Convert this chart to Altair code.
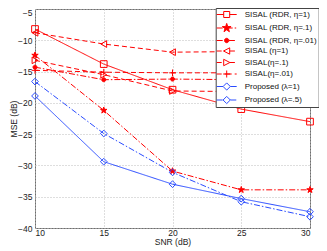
import altair as alt
import pandas as pd

snr = [10, 15, 20, 25, 30]
series_names = [
    "SISAL (RDR, η=1)", "SISAL (RDR, η=.1)", "SISAL (RDR, η=.01)",
    "SISAL (η=1)", "SISAL(η=.1)", "SISAL(η=.01)",
    "Proposed (λ=1)", "Proposed (λ=.5)",
]
rdr_1 = [-8.2, -13.8, -17.9, -21.0, -23.0]
rdr_01 = [-12.4, -21.2, -30.9, -33.9, -33.9]
rdr_001 = [-14.3, -16.3, -16.2, -16.3, -16.3]
sisal_1 = [-8.8, -10.6, -11.9, -11.8, -11.7]
sisal_01 = [-13.2, -15.5, -18.1, -18.2, -18.3]
sisal_001 = [-14.8, -15.1, -15.2, -15.2, -15.2]
prop_1 = [-18.9, -29.4, -33.0, -35.3, -37.4]
prop_05 = [-16.6, -24.9, -31.1, -35.8, -38.2]
all_vals = [rdr_1, rdr_01, rdr_001, sisal_1, sisal_01, sisal_001, prop_1, prop_05]

RED = "#ff0000"
BLUE = "#2a4cff"
colors = [RED] * 6 + [BLUE] * 2
DD = [6, 2, 1.5, 2]
DA = [5, 3]
SOLID = [1, 0]
dashes = [SOLID, DD, DD, DA, DA, DA, SOLID, DD]
STAR = ("M0,-1L0.2245,-0.309L0.9511,-0.309L0.3633,0.118L0.5878,0.809L0,0.382"
        "L-0.5878,0.809L-0.3633,0.118L-0.9511,-0.309L-0.2245,-0.309Z")
PLUS = "M-1,0L1,0M0,-1L0,1"
CIRC = "M-0.6,0A0.6,0.6,0,1,1,0.6,0A0.6,0.6,0,1,1,-0.6,0Z"
shapes = ["square", STAR, CIRC, "triangle-left", "triangle-right", PLUS, "diamond", "diamond"]
fills = ["transparent", RED, RED, "transparent", "transparent", "transparent", "transparent", "transparent"]

# ---- legend glyphs: line segment (with its dash pattern) plus marker ----
# glyphs are designed in pixels and expressed in symbol units (1 unit = sqrt(LEG_SIZE)/2 px)
LEG_SIZE = 100
UNIT = LEG_SIZE ** 0.5 / 2
HALF_LINE = 10.0


def _segs(a, b, pattern_px):
    if pattern_px == SOLID:
        return f"M{a / UNIT:.3f},0L{b / UNIT:.3f},0"
    out, pos, i = [], a, 0
    while pos < b - 1e-6:
        end = min(pos + pattern_px[i % len(pattern_px)], b)
        if i % 2 == 0:
            out.append(f"M{pos / UNIT:.3f},0L{end / UNIT:.3f},0")
        pos = end
        i += 1
    return "".join(out)


def _poly(pts_px):
    return "M" + "L".join(f"{x / UNIT:.3f},{y / UNIT:.3f}" for x, y in pts_px) + "Z"


star_unit = [(0, -1), (0.2245, -0.309), (0.9511, -0.309), (0.3633, 0.118), (0.5878, 0.809),
             (0, 0.382), (-0.5878, 0.809), (-0.3633, 0.118), (-0.9511, -0.309), (-0.2245, -0.309)]
rc = 2.2 / UNIT
rp = 3.5 / UNIT
leg_markers = [
    (_poly([(-3, -3), (3, -3), (3, 3), (-3, 3)]), 3.0),
    (_poly([(x * 4.6, y * 4.6) for x, y in star_unit]), 0.0),
    (f"M{-rc:.3f},0A{rc:.3f},{rc:.3f},0,1,1,{rc:.3f},0A{rc:.3f},{rc:.3f},0,1,1,{-rc:.3f},0Z", 2.2),
    (_poly([(-3.2, 0), (3, -3.2), (3, 3.2)]), 3.2),
    (_poly([(3.2, 0), (-3, -3.2), (-3, 3.2)]), 3.2),
    (f"M{-rp:.3f},0L{rp:.3f},0M0,{-rp:.3f}L0,{rp:.3f}", 0.0),
    (_poly([(0, -3.6), (3.6, 0), (0, 3.6), (-3.6, 0)]), 3.6),
    (_poly([(0, -3.6), (3.6, 0), (0, 3.6), (-3.6, 0)]), 3.6),
]
leg_shapes = []
for (mk, gap), pat in zip(leg_markers, dashes):
    leg_shapes.append(_segs(-HALF_LINE, -gap, pat) + _segs(gap, HALF_LINE, pat) + mk)

rows = []
for name, vals in zip(series_names, all_vals):
    for xv, yv in zip(snr, vals):
        rows.append({"snr": xv, "mse": yv, "series": name})
df = pd.DataFrame(rows)

FONT = "Liberation Sans"
W, H = 275, 219

x = alt.X("snr:Q", scale=alt.Scale(domain=[10, 30], nice=False),
          axis=alt.Axis(values=snr, title="SNR (dB)", titleY=13.5, titleBaseline="middle",
                        labelPadding=0.5, ticks=False, domain=False,
                        grid=True, gridDash=[1, 2], gridColor="#bdbdbd"))
y = alt.Y("mse:Q", scale=alt.Scale(domain=[-40, -5], nice=False),
          axis=alt.Axis(values=list(range(-40, -4, 5)), title="MSE (dB)",
                        titleX=-21.5, titleY=H / 2, titleBaseline="middle", titleAngle=270,
                        labelPadding=3, ticks=False, domain=False,
                        labelOffset={"condition": {"test": "datum.value == -5", "value": 3.5}, "value": 0},
                        grid=True, gridDash=[1, 2], gridColor="#bdbdbd"))

lines = alt.Chart(df).mark_line(strokeWidth=1).encode(
    x=x, y=y,
    color=alt.Color("series:N", scale=alt.Scale(domain=series_names, range=colors), legend=None),
    strokeDash=alt.StrokeDash("series:N", scale=alt.Scale(domain=series_names, range=dashes), legend=None),
)
points = alt.Chart(df).mark_point(filled=False, strokeWidth=1, opacity=1, size=45).encode(
    x=x, y=y,
    color=alt.Color("series:N", scale=alt.Scale(domain=series_names, range=colors), legend=None),
    shape=alt.Shape("series:N", scale=alt.Scale(domain=series_names, range=shapes), legend=None),
    fill=alt.Fill("series:N", scale=alt.Scale(domain=series_names, range=fills), legend=None),
)

leg = alt.Legend(orient="none", legendX=180.7, legendY=-1, title=None,
                 labelFont=FONT, labelFontSize=8, labelColor="#111", labelLimit=300,
                 padding=1, rowPadding=0.5, labelOffset=12.5, symbolOffset=4.5,
                 symbolSize=LEG_SIZE, symbolStrokeWidth=1, symbolOpacity=1,
                 fillColor="white", strokeColor="#444")
legend_layer = alt.Chart(df).transform_filter("datum.snr > 1000").mark_point(
    filled=False, strokeWidth=1, size=LEG_SIZE).encode(
    x=x, y=y,
    color=alt.Color("series:N", scale=alt.Scale(domain=series_names, range=colors), legend=leg),
    shape=alt.Shape("series:N", scale=alt.Scale(domain=series_names, range=leg_shapes), legend=leg),
    fill=alt.Fill("series:N", scale=alt.Scale(domain=series_names, range=fills), legend=leg),
)

chart = alt.layer(lines, points, legend_layer).resolve_scale(
    color="independent", shape="independent", fill="independent"
).properties(
    width=W, height=H,
    autosize=alt.AutoSizeParams(type="none"),
    padding={"left": 27, "top": 1, "right": 9, "bottom": 19},
).configure_view(stroke="#6e6e6e", strokeWidth=1).configure_axis(
    labelFont=FONT, labelFontSize=8.5, labelColor="#222", titleFont=FONT,
    titleFontSize=8.5, titleFontWeight="normal", titleColor="#222",
)

chart.save("out.html", embed_options={"renderer": "svg", "actions": False})
